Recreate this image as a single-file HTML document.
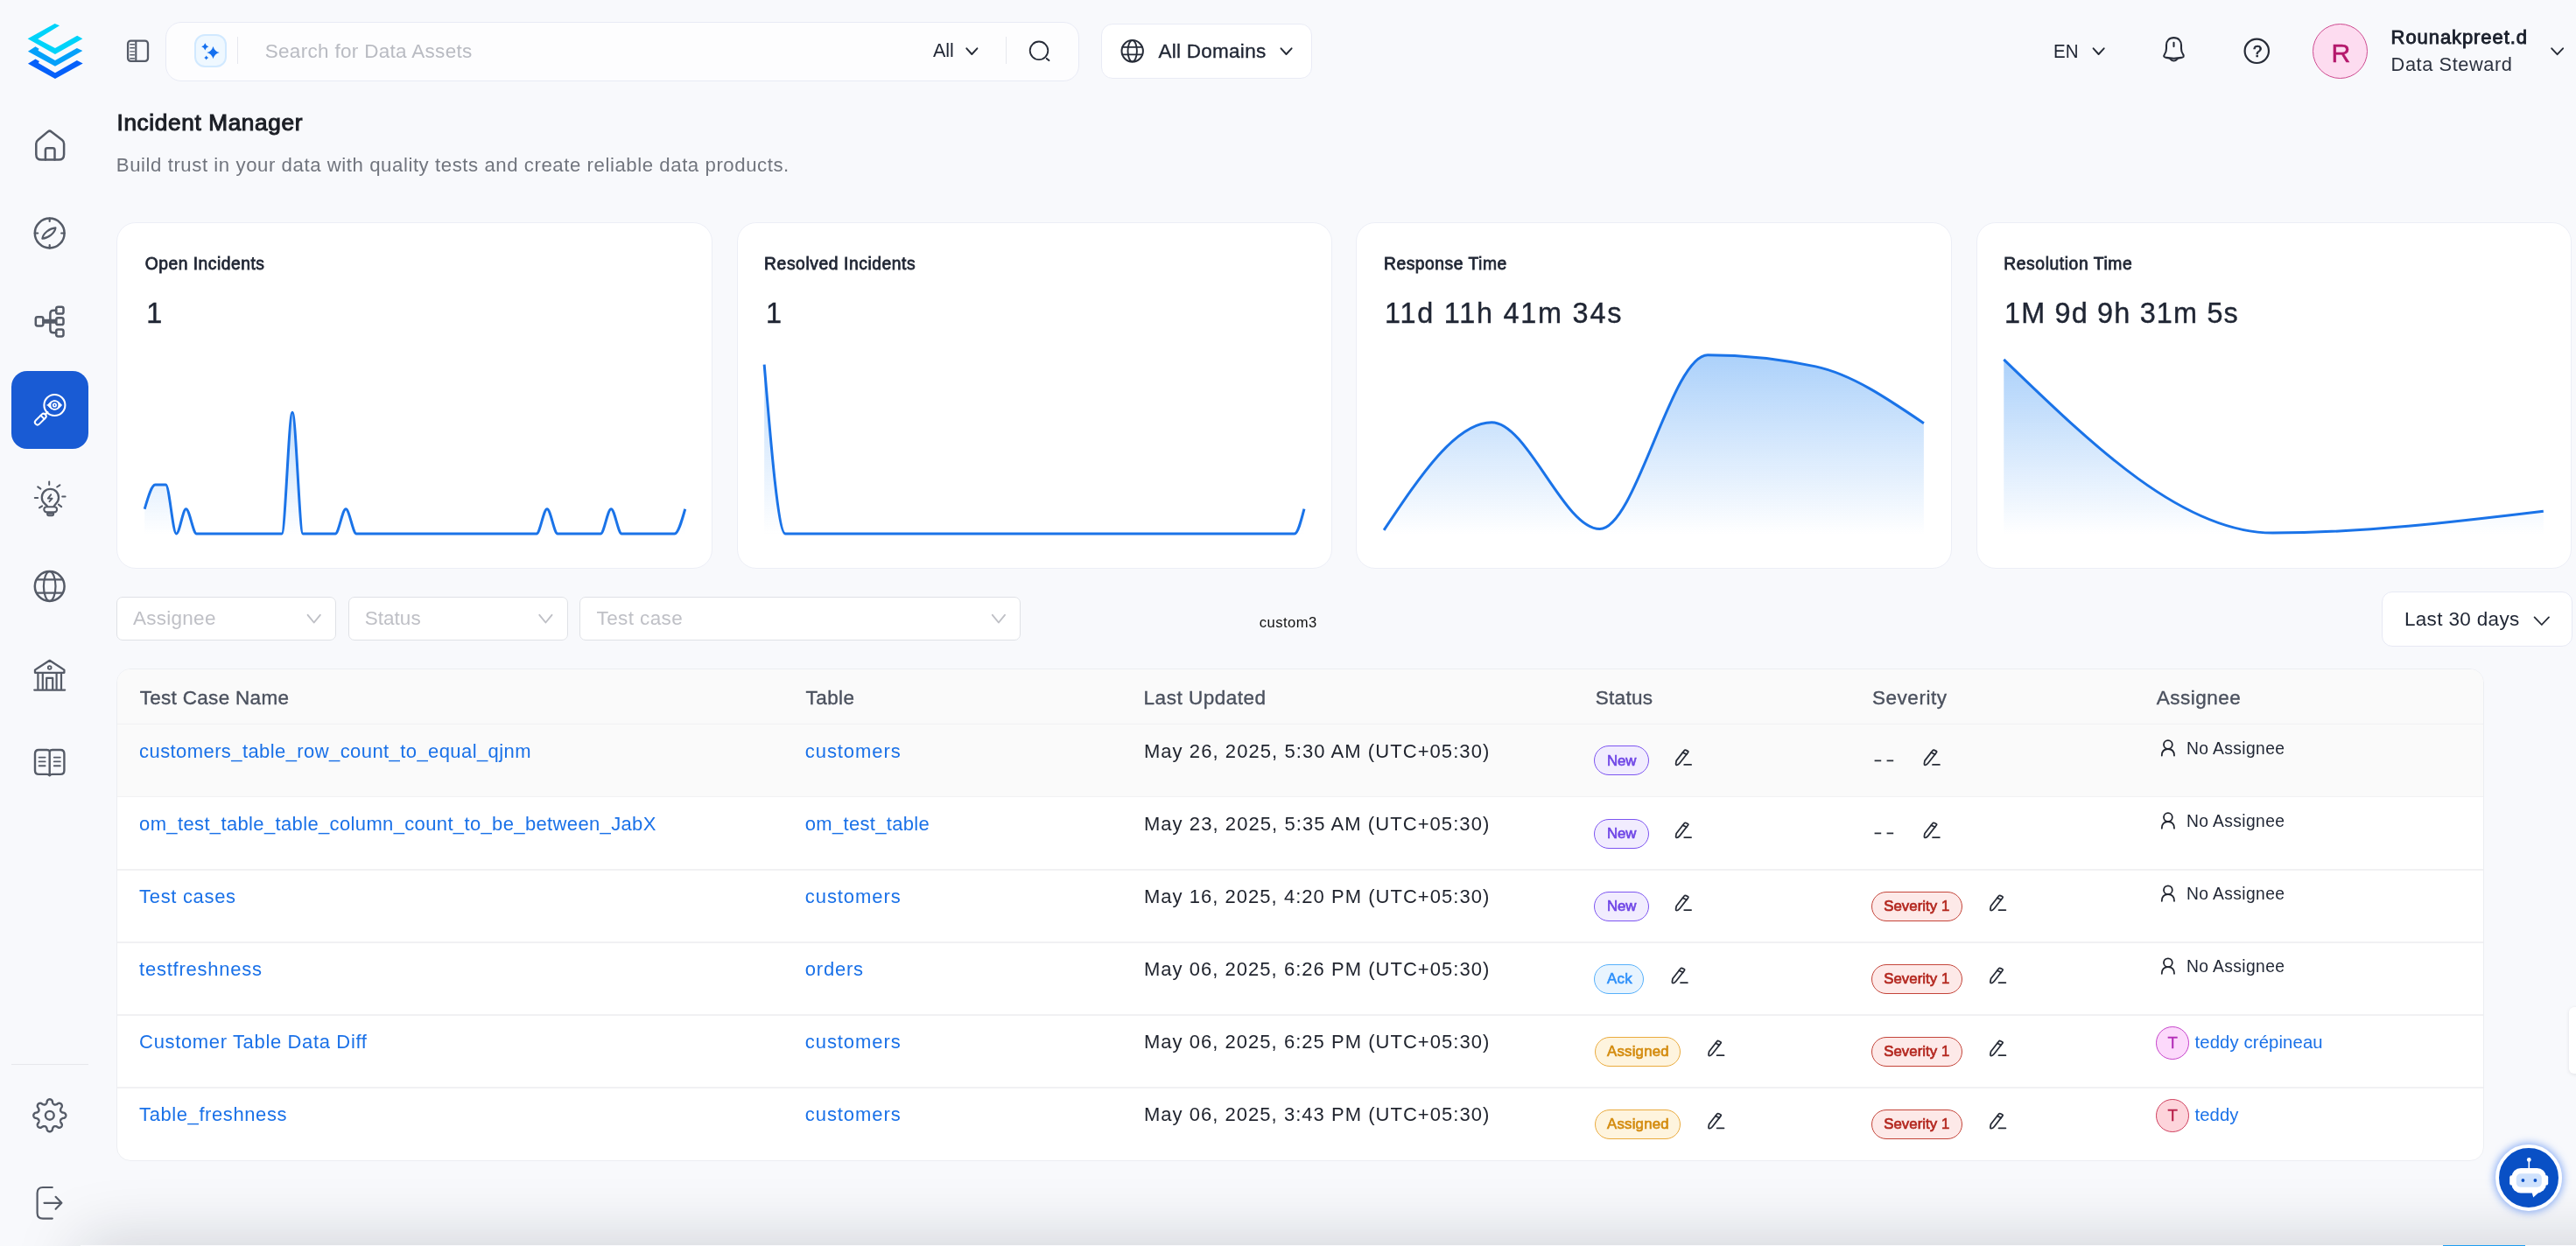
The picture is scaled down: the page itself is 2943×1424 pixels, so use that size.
<!DOCTYPE html>
<html><head><meta charset="utf-8"><title>Incident Manager</title>
<style>
html,body{margin:0;padding:0}
body{width:2943px;height:1424px;overflow:hidden;background:#f8f9fc;position:relative;font-family:'Liberation Sans',sans-serif}
.t{position:absolute;white-space:pre;line-height:1}
.a{position:absolute;box-sizing:border-box}
svg{position:absolute;left:0;top:0;overflow:visible}
.card{position:absolute;box-sizing:border-box;background:#fff;border:1.5px solid #eceef6;border-radius:22px}
.sel{position:absolute;box-sizing:border-box;background:#fff;border:1.5px solid #dfe1e6;border-radius:7px}
.bdg{position:absolute;box-sizing:border-box;border-radius:20px;border:1.8px solid}
#w{position:absolute;left:0;top:0;width:2943px;height:1424px;overflow:hidden;will-change:transform}
</style></head><body><div id="w">
<div class="a" style="left:92px;top:1423px;width:3000px;height:60px;background:#fbfbfd;box-shadow:0 0 76px 0 rgba(16,24,40,0.21)"></div>
<svg width="2943" height="1424" viewBox="0 0 2943 1424">
<polygon points="62.63,26.94 68.09,29.32 43.19,44.47 62.97,54.90 88.21,40.78 94.35,44.33 62.97,62.07 31.60,44.33" fill="#00d3fa"/>
<polygon points="31.94,58.66 40.46,53.34 44.56,55.79 43.53,57.84 62.97,68.89 87.87,55.11 94.35,58.11 62.97,75.71" fill="#04a0fa"/>
<polygon points="31.94,72.64 40.46,67.52 44.90,70.12 43.87,71.96 62.97,83.21 87.87,69.09 94.69,72.44 62.97,89.90" fill="#0560fa"/>
</svg>
<div class="a" style="left:12.5px;top:424px;width:88.4px;height:89px;border-radius:18px;background:#195bd4"></div>
<div class="a" style="left:13px;top:1215.6px;width:88px;height:1.6px;background:#e7e8ec"></div>
<svg width="120" height="1424" viewBox="0 0 120 1424" fill="none" stroke="#555b67" stroke-width="2.5" stroke-linecap="round" stroke-linejoin="round">
<!-- home -->
<path d="M41.3 164.2 Q41.3 161.6 43.4 160 L54.8 150.4 Q56.7 148.9 58.6 150.4 L71 160 Q73.1 161.6 73.1 164.2 V176.5 Q73.1 182.6 67 182.6 H47.4 Q41.3 182.6 41.3 176.5 Z"/>
<path d="M51.9 182.6 V171.5 Q51.9 169.3 54.1 169.3 H60.3 Q62.5 169.3 62.5 171.5 V182.6"/>
<!-- explore -->
<circle cx="56.7" cy="266.5" r="16.9"/>
<path d="M56.7 249.6v3.4M56.7 280v3.4M39.8 266.5h3.4M70.2 266.5h3.4" stroke-width="2.2"/>
<path d="M48.4 272.6 C49.2 266.8 56.5 260.9 63.4 260.4 C62.8 266.3 55 272.2 48.4 272.6 Z" stroke-width="2.2"/>
<!-- lineage -->
<rect x="40.8" y="362.2" width="8.6" height="10.2" rx="2.2"/>
<rect x="64.2" y="350.8" width="8.3" height="7.8" rx="2.2"/>
<rect x="64.2" y="363.3" width="8.3" height="7.8" rx="2.2"/>
<rect x="64.2" y="376.6" width="8.3" height="7.8" rx="2.2"/>
<path d="M49.4 366h14.8M49.4 368.6h14.8M64.2 354.7h-3.2q-3.6 0-3.6 3.6v18.4q0 3.6 3.6 3.6h3.2"/>
<!-- bulb -->
<path d="M53.9 578.4 L50.6 575.2 A9.6 9.6 0 1 1 64.2 575.2 L61.7 578.4" stroke-width="2.3"/>
<rect x="50.3" y="579.2" width="14.8" height="6.2" rx="3.1" stroke-width="2.1"/>
<path d="M54 586.6 V587.6 Q54 589.4 55.8 589.4 H59.4 Q61.2 589.4 61.2 587.6 V586.6 Z" stroke-width="1.8" fill="#8a8f99"/>
<path d="M58.2 565.3 L54.8 569.6 H59.6 L56.5 573.2" stroke-width="1.9"/>
<path d="M56.2 550.4V554M43.2 556.4l3.2 2.2M65.2 556.5l3.2 -2.1M39.8 569h3.4M71.2 567.4h3.4M44.9 580.3l3.2 -2M66.9 576.6l3.3 2.5" stroke-width="2"/>
<!-- globe -->
<circle cx="56.7" cy="670" r="16.9"/>
<ellipse cx="56.7" cy="670" rx="6.8" ry="16.9" stroke-width="2.2"/>
<path d="M41.8 662.4h29.8M41.8 677.6h29.8" stroke-width="2.2"/>
<!-- governance -->
<path d="M40 765.6 L56.7 754.8 L73.4 765.6 V768.8 H40 Z" stroke-width="2.3"/>
<circle cx="56.7" cy="763" r="1.9" stroke-width="1.8"/>
<path d="M43.4 769.5v17.6M48.8 769.5v17.6M64.6 769.5v17.6M70 769.5v17.6M53.2 787.5v-12.6h7v12.6M39.2 788.6h35" stroke-width="2.2"/>
<!-- book -->
<path d="M56.7 858.4 Q55.8 857 53.5 857 H44.4 Q40 857 40 861.4 V880.5 Q40 884.9 44.4 884.9 H53.5 Q55.8 884.9 56.7 886.2 Q57.6 884.9 59.9 884.9 H69 Q73.4 884.9 73.4 880.5 V861.4 Q73.4 857 69 857 H59.9 Q57.6 857 56.7 858.4 V885.6" stroke-width="2.4"/>
<path d="M44.6 865.6h7M44.6 870.4h7M44.6 875.2h7M61.8 865.6h7M61.8 870.4h7M61.8 875.2h7" stroke-width="1.9"/>
<circle cx="56.7" cy="885.6" r="1.5" fill="#555b67" stroke="none"/>
<!-- settings -->
<path d="M56.80,1256.30L57.16,1256.32L57.52,1256.39L57.88,1256.50L58.23,1256.65L58.57,1256.86L58.89,1257.11L59.21,1257.41L59.50,1257.78L59.76,1258.24L59.92,1259.11L60.05,1259.97L60.25,1260.44L60.45,1260.82L60.65,1261.15L60.86,1261.43L61.06,1261.68L61.28,1261.89L61.50,1262.06L61.73,1262.21L61.97,1262.33L62.22,1262.41L62.48,1262.47L62.76,1262.50L63.06,1262.51L63.39,1262.48L63.73,1262.43L64.10,1262.34L64.51,1262.21L64.98,1262.02L65.69,1261.50L66.42,1261.00L66.93,1260.86L67.40,1260.80L67.83,1260.81L68.24,1260.86L68.62,1260.96L68.98,1261.10L69.31,1261.27L69.61,1261.48L69.88,1261.72L70.12,1261.99L70.33,1262.29L70.50,1262.62L70.64,1262.98L70.74,1263.36L70.79,1263.77L70.80,1264.20L70.74,1264.67L70.60,1265.18L70.10,1265.91L69.58,1266.62L69.39,1267.09L69.26,1267.50L69.17,1267.87L69.12,1268.21L69.09,1268.54L69.10,1268.84L69.13,1269.12L69.19,1269.38L69.27,1269.63L69.39,1269.87L69.54,1270.10L69.71,1270.32L69.92,1270.54L70.17,1270.74L70.45,1270.95L70.78,1271.15L71.16,1271.35L71.63,1271.55L72.49,1271.68L73.36,1271.84L73.82,1272.10L74.19,1272.39L74.49,1272.71L74.74,1273.03L74.95,1273.37L75.10,1273.72L75.21,1274.08L75.28,1274.44L75.30,1274.80L75.28,1275.16L75.21,1275.52L75.10,1275.88L74.95,1276.23L74.74,1276.57L74.49,1276.89L74.19,1277.21L73.82,1277.50L73.36,1277.76L72.49,1277.92L71.63,1278.05L71.16,1278.25L70.78,1278.45L70.45,1278.65L70.17,1278.86L69.92,1279.06L69.71,1279.28L69.54,1279.50L69.39,1279.73L69.27,1279.97L69.19,1280.22L69.13,1280.48L69.10,1280.76L69.09,1281.06L69.12,1281.39L69.17,1281.73L69.26,1282.10L69.39,1282.51L69.58,1282.98L70.10,1283.69L70.60,1284.42L70.74,1284.93L70.80,1285.40L70.79,1285.83L70.74,1286.24L70.64,1286.62L70.50,1286.98L70.33,1287.31L70.12,1287.61L69.88,1287.88L69.61,1288.12L69.31,1288.33L68.98,1288.50L68.62,1288.64L68.24,1288.74L67.83,1288.79L67.40,1288.80L66.93,1288.74L66.42,1288.60L65.69,1288.10L64.98,1287.58L64.51,1287.39L64.10,1287.26L63.73,1287.17L63.39,1287.12L63.06,1287.09L62.76,1287.10L62.48,1287.13L62.22,1287.19L61.97,1287.27L61.73,1287.39L61.50,1287.54L61.28,1287.71L61.06,1287.92L60.86,1288.17L60.65,1288.45L60.45,1288.78L60.25,1289.16L60.05,1289.63L59.92,1290.49L59.76,1291.36L59.50,1291.82L59.21,1292.19L58.89,1292.49L58.57,1292.74L58.23,1292.95L57.88,1293.10L57.52,1293.21L57.16,1293.28L56.80,1293.30L56.44,1293.28L56.08,1293.21L55.72,1293.10L55.37,1292.95L55.03,1292.74L54.71,1292.49L54.39,1292.19L54.10,1291.82L53.84,1291.36L53.68,1290.49L53.55,1289.63L53.35,1289.16L53.15,1288.78L52.95,1288.45L52.74,1288.17L52.54,1287.92L52.32,1287.71L52.10,1287.54L51.87,1287.39L51.63,1287.27L51.38,1287.19L51.12,1287.13L50.84,1287.10L50.54,1287.09L50.21,1287.12L49.87,1287.17L49.50,1287.26L49.09,1287.39L48.62,1287.58L47.91,1288.10L47.18,1288.60L46.67,1288.74L46.20,1288.80L45.77,1288.79L45.36,1288.74L44.98,1288.64L44.62,1288.50L44.29,1288.33L43.99,1288.12L43.72,1287.88L43.48,1287.61L43.27,1287.31L43.10,1286.98L42.96,1286.62L42.86,1286.24L42.81,1285.83L42.80,1285.40L42.86,1284.93L43.00,1284.42L43.50,1283.69L44.02,1282.98L44.21,1282.51L44.34,1282.10L44.43,1281.73L44.48,1281.39L44.51,1281.06L44.50,1280.76L44.47,1280.48L44.41,1280.22L44.33,1279.97L44.21,1279.73L44.06,1279.50L43.89,1279.28L43.68,1279.06L43.43,1278.86L43.15,1278.65L42.82,1278.45L42.44,1278.25L41.97,1278.05L41.11,1277.92L40.24,1277.76L39.78,1277.50L39.41,1277.21L39.11,1276.89L38.86,1276.57L38.65,1276.23L38.50,1275.88L38.39,1275.52L38.32,1275.16L38.30,1274.80L38.32,1274.44L38.39,1274.08L38.50,1273.72L38.65,1273.37L38.86,1273.03L39.11,1272.71L39.41,1272.39L39.78,1272.10L40.24,1271.84L41.11,1271.68L41.97,1271.55L42.44,1271.35L42.82,1271.15L43.15,1270.95L43.43,1270.74L43.68,1270.54L43.89,1270.32L44.06,1270.10L44.21,1269.87L44.33,1269.63L44.41,1269.38L44.47,1269.12L44.50,1268.84L44.51,1268.54L44.48,1268.21L44.43,1267.87L44.34,1267.50L44.21,1267.09L44.02,1266.62L43.50,1265.91L43.00,1265.18L42.86,1264.67L42.80,1264.20L42.81,1263.77L42.86,1263.36L42.96,1262.98L43.10,1262.62L43.27,1262.29L43.48,1261.99L43.72,1261.72L43.99,1261.48L44.29,1261.27L44.62,1261.10L44.98,1260.96L45.36,1260.86L45.77,1260.81L46.20,1260.80L46.67,1260.86L47.18,1261.00L47.91,1261.50L48.62,1262.02L49.09,1262.21L49.50,1262.34L49.87,1262.43L50.21,1262.48L50.54,1262.51L50.84,1262.50L51.12,1262.47L51.38,1262.41L51.63,1262.33L51.87,1262.21L52.10,1262.06L52.32,1261.89L52.54,1261.68L52.74,1261.43L52.95,1261.15L53.15,1260.82L53.35,1260.44L53.55,1259.97L53.68,1259.11L53.84,1258.24L54.10,1257.78L54.39,1257.41L54.71,1257.11L55.03,1256.86L55.37,1256.65L55.72,1256.50L56.08,1256.39L56.44,1256.32L56.80,1256.30Z" stroke-width="2.4"/>
<circle cx="56.8" cy="1274.8" r="4.9" stroke-width="2.4"/>
<!-- logout -->
<path d="M59.8 1357 H49 Q42.6 1357 42.6 1363.4 V1386.2 Q42.6 1392.6 49 1392.6 H59.8" stroke-width="2.2"/>
<path d="M50.5 1374.8 H70 M63.6 1367.8 L70.4 1374.8 L63.6 1381.8" stroke-width="2.2"/>
<!-- active: observability (white) -->
<g stroke="#fff">
<circle cx="62.4" cy="463" r="12" stroke-width="2.1"/>
<path d="M54.2 463 Q62.4 451.8 70.6 463 Q62.4 474.2 54.2 463Z" fill="#fff" stroke-width="0.8"/>
<circle cx="62.4" cy="463" r="3.3" stroke="#1a5bd6" stroke-width="1.5" fill="#fff"/>
<circle cx="62.4" cy="463" r="0.9" stroke="none" fill="#1a5bd6"/>
<g transform="translate(51.8,473.6) rotate(135)">
<path d="M-3.4 0H0" stroke-width="2.4"/>
<rect x="0" y="-2.9" width="15.6" height="5.8" rx="2.9" stroke-width="2"/>
<path d="M4.6 -2.9V2.9" stroke-width="2"/>
</g>
</g>
</svg>
<svg width="2943" height="130" viewBox="0 0 2943 130" fill="none" stroke="#555b67" stroke-width="2.1" stroke-linecap="round" stroke-linejoin="round">
<rect x="146.1" y="46.7" width="22.9" height="23.2" rx="3.3" stroke-width="2.3"/>
<path d="M155.3 47v22.6" stroke-width="2.1"/>
<path d="M148.3 50.8h5.6M148.3 54.8h5.6M148.3 58.9h5.6M148.3 62.8h5.6M148.3 66.8h5.6" stroke-width="1.4" stroke-linecap="butt"/>
</svg>
<div class="a" style="left:189.4px;top:25.3px;width:1043.8px;height:68px;border-radius:18px;background:#fdfdfe;border:1.5px solid #e8eaf5"></div>
<div class="a" style="left:221.9px;top:39.3px;width:36.8px;height:38.2px;border-radius:12px;background:#eff8ff;border:2px solid #d1e9ff"></div>
<svg width="2943" height="130" viewBox="0 0 2943 130">
<path d="M243.5 52.9 Q245.084 58.516 250.7 60.1 Q245.084 61.684000000000005 243.5 67.3 Q241.916 61.684000000000005 236.3 60.1 Q241.916 58.516 243.5 52.9Z" fill="#1570ef"/>
<path d="M234.3 49.199999999999996 Q235.202 52.397999999999996 238.4 53.3 Q235.202 54.202 234.3 57.4 Q233.39800000000002 54.202 230.20000000000002 53.3 Q233.39800000000002 52.397999999999996 234.3 49.199999999999996Z" fill="#1570ef"/>
<path d="M235.7 63.400000000000006 Q236.25 65.35000000000001 238.2 65.9 Q236.25 66.45 235.7 68.4 Q235.14999999999998 66.45 233.2 65.9 Q235.14999999999998 65.35000000000001 235.7 63.400000000000006Z" fill="#1570ef"/>
</svg>
<div class="a" style="left:270.6px;top:41.7px;width:1.5px;height:31.3px;background:#e6e8ee"></div>
<span class="t" style="left:302.7px;top:48.4px;font-size:22.5px;color:#b9bbc2;letter-spacing:0.309px;">Search for Data Assets</span>
<span class="t" style="left:1066.3px;top:47.2px;font-size:22.5px;color:#1f2533;transform:scaleX(0.9554);transform-origin:0 0;">All</span>
<div class="a" style="left:1257.8px;top:27.2px;width:241.2px;height:62.8px;border-radius:13px;background:#fff;border:1.5px solid #e9ebf5"></div>
<div class="a" style="left:1148.8px;top:42px;width:1.5px;height:31px;background:#e6e8ee"></div>
<svg width="2943" height="130" viewBox="0 0 2943 130" fill="none" stroke="#272c38" stroke-width="2" stroke-linecap="round" stroke-linejoin="round">
<path d="M1104.3 55.3 L1110.3 62.0 L1116.4 55.3" fill="none" stroke="#262b36" stroke-width="1.9" stroke-linecap="round" stroke-linejoin="round"/>
<circle cx="1187" cy="57.8" r="10.3" stroke-width="1.8"/>
<path d="M1195.8 66.9l2.6 2.2" stroke-width="2"/>
<!-- globe -->
<circle cx="1293.7" cy="58.3" r="12.2" stroke-width="2"/>
<ellipse cx="1293.7" cy="58.3" rx="5.2" ry="12.2" stroke-width="1.9"/>
<path d="M1282.4 53.9h22.6M1282.4 62.4h22.6" stroke-width="1.9"/>
<path d="M1463.5 55.3 L1469.5 62.0 L1475.6 55.3" fill="none" stroke="#262b36" stroke-width="1.9" stroke-linecap="round" stroke-linejoin="round"/>
<path d="M2391.6 55.3 L2397.6 62.0 L2403.7 55.3" fill="none" stroke="#262b36" stroke-width="1.9" stroke-linecap="round" stroke-linejoin="round"/>
<path d="M2915.2 55.3 L2921.6 62.2 L2928.1 55.3" fill="none" stroke="#262b36" stroke-width="1.9" stroke-linecap="round" stroke-linejoin="round"/>
<!-- bell -->
<path d="M2483.5 43.1 C2478 43.1 2475 47 2475 51.6 V55.5 C2475 58.8 2474.3 60.2 2473 62 C2471.4 64.3 2472.6 65.6 2475 65.9 C2480 66.9 2487 66.9 2492 65.9 C2494.6 65.6 2495.8 64.3 2494 62 C2492.7 60.2 2492 58.8 2492 55.5 V51.6 C2492 47 2489 43.1 2483.5 43.1 Z" stroke-width="2.1"/>
<path d="M2483.5 48.7V53.1" stroke-width="2.1"/>
<path d="M2479.4 67.4 Q2483.5 71.8 2487.6 67.4" stroke-width="2"/>
<!-- help -->
<circle cx="2578.3" cy="58.3" r="13.7" stroke-width="2.2"/>
</svg>
<span class="t" style="left:2574.0px;top:49.9px;font-size:18.2px;color:#1f2533;-webkit-text-stroke:0.73px #1f2533;">?</span>
<span class="t" style="left:1323.4px;top:47.6px;font-size:22.5px;color:#1f2533;letter-spacing:0.275px;-webkit-text-stroke:0.36px #1f2533;">All Domains</span>
<span class="t" style="left:2346.3px;top:47.8px;font-size:22.2px;color:#1f2533;transform:scaleX(0.9245);transform-origin:0 0;">EN</span>
<div class="a" style="left:2642.2px;top:26.9px;width:63px;height:63px;border-radius:50%;background:#fddcf0;border:1.5px solid #cd4a8f"></div>
<span class="t" style="left:2663.6px;top:45.6px;font-size:30.2px;color:#b4196c;-webkit-text-stroke:0.5px #b4196c;">R</span>
<span class="t" style="left:2731.6px;top:32.0px;font-size:22px;color:#1b202c;letter-spacing:0.923px;-webkit-text-stroke:0.88px #1b202c;">Rounakpreet.d</span>
<span class="t" style="left:2731.6px;top:63.0px;font-size:21.8px;color:#2c323f;letter-spacing:0.567px;">Data Steward</span>
<span class="t" style="left:133.5px;top:127.1px;font-size:26.2px;color:#1c1f26;letter-spacing:0.636px;-webkit-text-stroke:1.05px #1c1f26;">Incident Manager</span>
<span class="t" style="left:132.8px;top:178.0px;font-size:22.2px;color:#71757e;letter-spacing:0.562px;">Build trust in your data with quality tests and create reliable data products.</span>
<div class="card" style="left:133.1px;top:254.3px;width:680.8px;height:396.2px"></div>
<span class="t" style="left:165.7px;top:292.0px;font-size:19.3px;color:#1f2533;letter-spacing:0.500px;-webkit-text-stroke:0.77px #1f2533;">Open Incidents</span>
<span class="t" style="left:167.3px;top:341.5px;font-size:32.4px;color:#1f2533;-webkit-text-stroke:0.4px #1f2533;">1</span>
<div class="card" style="left:841.6px;top:254.3px;width:680.8px;height:396.2px"></div>
<span class="t" style="left:873.1px;top:292.0px;font-size:19.3px;color:#1f2533;letter-spacing:0.569px;-webkit-text-stroke:0.77px #1f2533;">Resolved Incidents</span>
<span class="t" style="left:874.9px;top:341.5px;font-size:32.4px;color:#1f2533;-webkit-text-stroke:0.4px #1f2533;">1</span>
<div class="card" style="left:1549.3px;top:254.3px;width:680.8px;height:396.2px"></div>
<span class="t" style="left:1581.0px;top:292.0px;font-size:19.3px;color:#1f2533;letter-spacing:0.519px;-webkit-text-stroke:0.77px #1f2533;">Response Time</span>
<span class="t" style="left:1582.0px;top:341.5px;font-size:32.4px;color:#1f2533;letter-spacing:1.777px;-webkit-text-stroke:0.4px #1f2533;">11d 11h 41m 34s</span>
<div class="card" style="left:2257.7px;top:254.3px;width:680.8px;height:396.2px"></div>
<span class="t" style="left:2289.3px;top:292.0px;font-size:19.3px;color:#1f2533;letter-spacing:0.582px;-webkit-text-stroke:0.77px #1f2533;">Resolution Time</span>
<span class="t" style="left:2290.0px;top:341.5px;font-size:32.4px;color:#1f2533;letter-spacing:1.180px;-webkit-text-stroke:0.4px #1f2533;">1M 9d 9h 31m 5s</span>
<svg width="2943" height="700" viewBox="0 0 2943 700">
<defs><linearGradient id="g1" gradientUnits="userSpaceOnUse" x1="0" y1="471.3" x2="0" y2="611.0"><stop offset="0" stop-color="#2f8cf3" stop-opacity="0.3"/><stop offset="1" stop-color="#2f8cf3" stop-opacity="0"/></linearGradient></defs><path d="M165.22,581.73C169.25,567.93,173.27,554.12,177.30,554.12C181.33,554.12,185.35,554.12,189.38,554.12C193.41,554.12,197.44,610.04,201.46,610.04C205.15,610.04,208.83,581.73,212.51,581.73C216.54,581.73,220.56,610.04,224.59,610.04C228.62,610.04,232.65,610.04,236.67,610.04C265.09,610.04,293.51,610.04,321.93,610.04C325.96,610.04,329.99,471.27,334.01,471.27C338.04,471.27,342.07,610.04,346.10,610.04C350.12,610.04,354.15,610.04,358.18,610.04C366.46,610.04,374.75,610.04,383.03,610.04C387.06,610.04,391.09,581.73,395.11,581.73C399.14,581.73,403.17,610.04,407.19,610.04C411.22,610.04,415.25,610.04,419.28,610.04C483.82,610.04,548.37,610.04,612.92,610.04C616.95,610.04,620.98,581.73,625.01,581.73C629.03,581.73,633.06,610.04,637.09,610.04C641.11,610.04,645.14,610.04,649.17,610.04C661.48,610.04,673.79,610.04,686.10,610.04C690.13,610.04,694.16,581.73,698.18,581.73C702.21,581.73,706.24,610.04,710.27,610.04C714.29,610.04,718.32,610.04,722.35,610.04C738.46,610.04,754.56,610.04,770.67,610.04C774.70,610.04,778.73,595.89,782.75,581.73L782.75,611.00L165.22,611.00Z" fill="url(#g1)"/><path d="M165.22,581.73C169.25,567.93,173.27,554.12,177.30,554.12C181.33,554.12,185.35,554.12,189.38,554.12C193.41,554.12,197.44,610.04,201.46,610.04C205.15,610.04,208.83,581.73,212.51,581.73C216.54,581.73,220.56,610.04,224.59,610.04C228.62,610.04,232.65,610.04,236.67,610.04C265.09,610.04,293.51,610.04,321.93,610.04C325.96,610.04,329.99,471.27,334.01,471.27C338.04,471.27,342.07,610.04,346.10,610.04C350.12,610.04,354.15,610.04,358.18,610.04C366.46,610.04,374.75,610.04,383.03,610.04C387.06,610.04,391.09,581.73,395.11,581.73C399.14,581.73,403.17,610.04,407.19,610.04C411.22,610.04,415.25,610.04,419.28,610.04C483.82,610.04,548.37,610.04,612.92,610.04C616.95,610.04,620.98,581.73,625.01,581.73C629.03,581.73,633.06,610.04,637.09,610.04C641.11,610.04,645.14,610.04,649.17,610.04C661.48,610.04,673.79,610.04,686.10,610.04C690.13,610.04,694.16,581.73,698.18,581.73C702.21,581.73,706.24,610.04,710.27,610.04C714.29,610.04,718.32,610.04,722.35,610.04C738.46,610.04,754.56,610.04,770.67,610.04C774.70,610.04,778.73,595.89,782.75,581.73" fill="none" stroke="#1a73e8" stroke-width="3" stroke-linejoin="round"/>
<defs><linearGradient id="g2" gradientUnits="userSpaceOnUse" x1="0" y1="416.7" x2="0" y2="611.0"><stop offset="0" stop-color="#2f8cf3" stop-opacity="0.3"/><stop offset="1" stop-color="#2f8cf3" stop-opacity="0"/></linearGradient></defs><path d="M873.15,416.73C881.20,513.39,889.26,610.04,897.31,610.04C905.37,610.04,913.42,610.04,921.47,610.04C1107.30,610.04,1293.12,610.04,1478.95,610.04C1482.63,610.04,1486.31,595.89,1489.99,581.73L1489.99,611.00L873.15,611.00Z" fill="url(#g2)"/><path d="M873.15,416.73C881.20,513.39,889.26,610.04,897.31,610.04C905.37,610.04,913.42,610.04,921.47,610.04C1107.30,610.04,1293.12,610.04,1478.95,610.04C1482.63,610.04,1486.31,595.89,1489.99,581.73" fill="none" stroke="#1a73e8" stroke-width="3" stroke-linejoin="round"/>
<defs><linearGradient id="g3" gradientUnits="userSpaceOnUse" x1="0" y1="405.7" x2="0" y2="611.0"><stop offset="0" stop-color="#2f8cf3" stop-opacity="0.4"/><stop offset="1" stop-color="#2f8cf3" stop-opacity="0"/></linearGradient></defs><path d="M1581.10,605.90C1622.13,544.30,1663.17,482.70,1704.20,482.70C1745.33,482.70,1786.47,604.50,1827.60,604.50C1868.73,604.50,1909.87,405.70,1951.00,405.70C1992.13,405.70,2033.27,410.10,2074.40,418.90C2115.57,427.71,2156.73,455.70,2197.90,483.70L2197.90,611.00L1581.10,611.00Z" fill="url(#g3)"/><path d="M1581.10,605.90C1622.13,544.30,1663.17,482.70,1704.20,482.70C1745.33,482.70,1786.47,604.50,1827.60,604.50C1868.73,604.50,1909.87,405.70,1951.00,405.70C1992.13,405.70,2033.27,410.10,2074.40,418.90C2115.57,427.71,2156.73,455.70,2197.90,483.70" fill="none" stroke="#1a73e8" stroke-width="3" stroke-linejoin="round"/>
<defs><linearGradient id="g4" gradientUnits="userSpaceOnUse" x1="0" y1="410.9" x2="0" y2="611.0"><stop offset="0" stop-color="#2f8cf3" stop-opacity="0.4"/><stop offset="1" stop-color="#2f8cf3" stop-opacity="0"/></linearGradient></defs><path d="M2289.30,410.90C2391.70,509.95,2494.10,609.00,2596.50,609.00C2699.60,609.00,2802.70,596.60,2905.80,584.20L2905.80,611.00L2289.30,611.00Z" fill="url(#g4)"/><path d="M2289.30,410.90C2391.70,509.95,2494.10,609.00,2596.50,609.00C2699.60,609.00,2802.70,596.60,2905.80,584.20" fill="none" stroke="#1a73e8" stroke-width="3" stroke-linejoin="round"/>
</svg>
<div class="sel" style="left:132.8px;top:682.2px;width:251.5px;height:49.6px"></div>
<span class="t" style="left:152.0px;top:695.7px;font-size:22.5px;color:#bfc0c6;letter-spacing:0.263px;">Assignee</span>
<div class="sel" style="left:397.5px;top:682.2px;width:251.5px;height:49.6px"></div>
<span class="t" style="left:416.7px;top:695.7px;font-size:22.5px;color:#bfc0c6;letter-spacing:0.041px;">Status</span>
<div class="sel" style="left:662.3px;top:682.2px;width:503.8px;height:49.6px"></div>
<span class="t" style="left:681.5px;top:695.7px;font-size:22.5px;color:#bfc0c6;letter-spacing:0.394px;">Test case</span>
<div class="a" style="left:2721.2px;top:676.3px;width:217.8px;height:62.4px;border-radius:12px;background:#fff;border:1.5px solid #e7e9f4"></div>
<svg width="2943" height="800" viewBox="0 0 2943 800">
<path d="M351.6 702.8 L358.7 711.5 L365.8 702.8" fill="none" stroke="#bfc0c6" stroke-width="1.9" stroke-linecap="round" stroke-linejoin="round"/>
<path d="M616.3 702.8 L623.4 711.5 L630.5 702.8" fill="none" stroke="#bfc0c6" stroke-width="1.9" stroke-linecap="round" stroke-linejoin="round"/>
<path d="M1133.8 702.8 L1140.9 711.5 L1148.0 702.8" fill="none" stroke="#bfc0c6" stroke-width="1.9" stroke-linecap="round" stroke-linejoin="round"/>
<path d="M2895.6 705.4 L2903.8 714.0 L2912.0 705.4" fill="none" stroke="#262b36" stroke-width="1.8" stroke-linecap="round" stroke-linejoin="round"/>
</svg>
<span class="t" style="left:1438.7px;top:704.2px;font-size:16.6px;color:#111;letter-spacing:0.480px;">custom3</span>
<span class="t" style="left:2746.9px;top:696.8px;font-size:22.5px;color:#1f2533;letter-spacing:0.346px;">Last 30 days</span>
<div class="a" style="left:132.9px;top:763.8px;width:2705.6px;height:563.6000000000001px;border-radius:16px;background:#fff;border:1.5px solid #eceef2;overflow:hidden"><div class="a" style="left:0;top:0;width:100%;height:145.18px;background:#fafafa"></div><div class="a" style="left:0;top:62.1px;width:100%;height:1.5px;background:#f1f1f3"></div><div class="a" style="left:0;top:145.2px;width:100%;height:1.5px;background:#f1f1f3"></div><div class="a" style="left:0;top:228.3px;width:100%;height:1.5px;background:#f1f1f3"></div><div class="a" style="left:0;top:311.3px;width:100%;height:1.5px;background:#f1f1f3"></div><div class="a" style="left:0;top:394.4px;width:100%;height:1.5px;background:#f1f1f3"></div><div class="a" style="left:0;top:477.5px;width:100%;height:1.5px;background:#f1f1f3"></div></div>
<span class="t" style="left:159.7px;top:786.9px;font-size:22.5px;color:#4b515e;letter-spacing:0.307px;-webkit-text-stroke:0.36px #4b515e;">Test Case Name</span>
<span class="t" style="left:920.6px;top:786.9px;font-size:22.5px;color:#4b515e;letter-spacing:0.401px;-webkit-text-stroke:0.36px #4b515e;">Table</span>
<span class="t" style="left:1306.6px;top:786.9px;font-size:22.5px;color:#4b515e;letter-spacing:0.504px;-webkit-text-stroke:0.36px #4b515e;">Last Updated</span>
<span class="t" style="left:1822.7px;top:786.9px;font-size:22.5px;color:#4b515e;letter-spacing:0.321px;-webkit-text-stroke:0.36px #4b515e;">Status</span>
<span class="t" style="left:2139.1px;top:786.9px;font-size:22.5px;color:#4b515e;letter-spacing:0.503px;-webkit-text-stroke:0.36px #4b515e;">Severity</span>
<span class="t" style="left:2463.7px;top:786.9px;font-size:22.5px;color:#4b515e;letter-spacing:0.491px;-webkit-text-stroke:0.36px #4b515e;">Assignee</span>
<span class="t" style="left:159.1px;top:848.0px;font-size:22px;color:#1a71e8;letter-spacing:0.413px;">customers_table_row_count_to_equal_qjnm</span>
<span class="t" style="left:919.8px;top:848.0px;font-size:22px;color:#1a71e8;letter-spacing:0.927px;">customers</span>
<span class="t" style="left:1306.9px;top:848.0px;font-size:22px;color:#20242e;letter-spacing:1.071px;">May 26, 2025, 5:30 AM (UTC+05:30)</span>
<div class="bdg" style="left:1821.1px;top:852.4px;width:62.5px;height:34px;background:#f1ecfe;border-color:#7d55f1"></div>
<span class="t" style="left:1835.9px;top:861.7px;font-size:16.8px;color:#7047e6;letter-spacing:-0.089px;-webkit-text-stroke:0.67px #7047e6;">New</span>
<span class="t" style="left:2498.0px;top:845.6px;font-size:19.3px;color:#1f2533;letter-spacing:0.373px;">No Assignee</span>
<span class="t" style="left:159.1px;top:931.1px;font-size:22px;color:#1a71e8;letter-spacing:0.357px;">om_test_table_table_column_count_to_be_between_JabX</span>
<span class="t" style="left:919.8px;top:931.1px;font-size:22px;color:#1a71e8;letter-spacing:0.308px;">om_test_table</span>
<span class="t" style="left:1306.9px;top:931.1px;font-size:22px;color:#20242e;letter-spacing:1.071px;">May 23, 2025, 5:35 AM (UTC+05:30)</span>
<div class="bdg" style="left:1821.1px;top:935.5px;width:62.5px;height:34px;background:#f1ecfe;border-color:#7d55f1"></div>
<span class="t" style="left:1835.9px;top:944.8px;font-size:16.8px;color:#7047e6;letter-spacing:-0.089px;-webkit-text-stroke:0.67px #7047e6;">New</span>
<span class="t" style="left:2498.0px;top:928.6px;font-size:19.3px;color:#1f2533;letter-spacing:0.373px;">No Assignee</span>
<span class="t" style="left:159.1px;top:1014.1px;font-size:22px;color:#1a71e8;letter-spacing:0.674px;">Test cases</span>
<span class="t" style="left:919.8px;top:1014.1px;font-size:22px;color:#1a71e8;letter-spacing:0.927px;">customers</span>
<span class="t" style="left:1306.9px;top:1014.1px;font-size:22px;color:#20242e;letter-spacing:1.033px;">May 16, 2025, 4:20 PM (UTC+05:30)</span>
<div class="bdg" style="left:1821.1px;top:1018.6px;width:62.5px;height:34px;background:#f1ecfe;border-color:#7d55f1"></div>
<span class="t" style="left:1835.9px;top:1027.8px;font-size:16.8px;color:#7047e6;letter-spacing:-0.089px;-webkit-text-stroke:0.67px #7047e6;">New</span>
<div class="bdg" style="left:2137.9px;top:1018.6px;width:104.2px;height:34px;background:#fde9e8;border-color:#c4453a"></div>
<span class="t" style="left:2152.2px;top:1027.8px;font-size:16.8px;color:#b3261e;letter-spacing:0.053px;-webkit-text-stroke:0.67px #b3261e;">Severity 1</span>
<span class="t" style="left:2498.0px;top:1011.7px;font-size:19.3px;color:#1f2533;letter-spacing:0.373px;">No Assignee</span>
<span class="t" style="left:159.1px;top:1097.2px;font-size:22px;color:#1a71e8;letter-spacing:0.763px;">testfreshness</span>
<span class="t" style="left:919.8px;top:1097.2px;font-size:22px;color:#1a71e8;letter-spacing:0.788px;">orders</span>
<span class="t" style="left:1306.9px;top:1097.2px;font-size:22px;color:#20242e;letter-spacing:1.033px;">May 06, 2025, 6:26 PM (UTC+05:30)</span>
<div class="bdg" style="left:1821.4px;top:1101.6px;width:56.6px;height:34px;background:#e8f4fe;border-color:#56b0fb"></div>
<span class="t" style="left:1836.0px;top:1110.9px;font-size:16.8px;color:#2e90fa;letter-spacing:0.308px;-webkit-text-stroke:0.67px #2e90fa;">Ack</span>
<div class="bdg" style="left:2137.9px;top:1101.6px;width:104.2px;height:34px;background:#fde9e8;border-color:#c4453a"></div>
<span class="t" style="left:2152.2px;top:1110.9px;font-size:16.8px;color:#b3261e;letter-spacing:0.053px;-webkit-text-stroke:0.67px #b3261e;">Severity 1</span>
<span class="t" style="left:2498.0px;top:1094.8px;font-size:19.3px;color:#1f2533;letter-spacing:0.373px;">No Assignee</span>
<span class="t" style="left:159.1px;top:1180.3px;font-size:22px;color:#1a71e8;letter-spacing:0.645px;">Customer Table Data Diff</span>
<span class="t" style="left:919.8px;top:1180.3px;font-size:22px;color:#1a71e8;letter-spacing:0.927px;">customers</span>
<span class="t" style="left:1306.9px;top:1180.3px;font-size:22px;color:#20242e;letter-spacing:1.033px;">May 06, 2025, 6:25 PM (UTC+05:30)</span>
<div class="bdg" style="left:1821.7px;top:1184.7px;width:98.5px;height:34px;background:#fef4de;border-color:#eaab3e"></div>
<span class="t" style="left:1836.0px;top:1194.0px;font-size:16.8px;color:#d48c10;letter-spacing:0.222px;-webkit-text-stroke:0.67px #d48c10;">Assigned</span>
<div class="bdg" style="left:2137.9px;top:1184.7px;width:104.2px;height:34px;background:#fde9e8;border-color:#c4453a"></div>
<span class="t" style="left:2152.2px;top:1194.0px;font-size:16.8px;color:#b3261e;letter-spacing:0.053px;-webkit-text-stroke:0.67px #b3261e;">Severity 1</span>
<div class="a" style="left:2463.1px;top:1172.8px;width:37.8px;height:37.8px;border-radius:50%;background:#fcd9fb;border:1.5px solid #c643cb"></div>
<span class="t" style="left:2476.6px;top:1182.6px;font-size:18.6px;color:#b32fb8;-webkit-text-stroke:0.4px #b32fb8;">T</span>
<span class="t" style="left:2507.5px;top:1181.1px;font-size:20.3px;color:#1a71e8;letter-spacing:0.127px;">teddy crépineau</span>
<span class="t" style="left:159.1px;top:1263.4px;font-size:22px;color:#1a71e8;letter-spacing:0.584px;">Table_freshness</span>
<span class="t" style="left:919.8px;top:1263.4px;font-size:22px;color:#1a71e8;letter-spacing:0.927px;">customers</span>
<span class="t" style="left:1306.9px;top:1263.4px;font-size:22px;color:#20242e;letter-spacing:1.033px;">May 06, 2025, 3:43 PM (UTC+05:30)</span>
<div class="bdg" style="left:1821.7px;top:1267.8px;width:98.5px;height:34px;background:#fef4de;border-color:#eaab3e"></div>
<span class="t" style="left:1836.0px;top:1277.1px;font-size:16.8px;color:#d48c10;letter-spacing:0.222px;-webkit-text-stroke:0.67px #d48c10;">Assigned</span>
<div class="bdg" style="left:2137.9px;top:1267.8px;width:104.2px;height:34px;background:#fde9e8;border-color:#c4453a"></div>
<span class="t" style="left:2152.2px;top:1277.1px;font-size:16.8px;color:#b3261e;letter-spacing:0.053px;-webkit-text-stroke:0.67px #b3261e;">Severity 1</span>
<div class="a" style="left:2463.1px;top:1255.9px;width:37.8px;height:37.8px;border-radius:50%;background:#fdd4db;border:1.5px solid #d0405f"></div>
<span class="t" style="left:2476.6px;top:1265.7px;font-size:18.6px;color:#b8204a;-webkit-text-stroke:0.4px #b8204a;">T</span>
<span class="t" style="left:2507.5px;top:1264.2px;font-size:20.3px;color:#1a71e8;letter-spacing:0.094px;">teddy</span>
<svg width="2943" height="1424" viewBox="0 0 2943 1424"><g transform="translate(1913.5,855.6)" fill="none" stroke="#262b36" stroke-width="1.75" stroke-linecap="round" stroke-linejoin="round"><path d="M1.68 13.77 L10.67 2.27 Q11.47 1.24 12.64 1.81 L14.65 2.78 Q15.82 3.35 15.02 4.38 L5.41 16.67 Q3.6 18.9 1.9 18.7 Q1 18.5 1.1 17.2 Z"/><path d="M9 4.4 L13.4 6.5"/><path d="M10.7 18.3 H18.6"/></g>
<path d="M2141.6 869.3h7.6M2155.6 869.3h7.6" stroke="#2b303b" stroke-width="1.7" fill="none"/>
<g transform="translate(2197.3,855.6)" fill="none" stroke="#262b36" stroke-width="1.75" stroke-linecap="round" stroke-linejoin="round"><path d="M1.68 13.77 L10.67 2.27 Q11.47 1.24 12.64 1.81 L14.65 2.78 Q15.82 3.35 15.02 4.38 L5.41 16.67 Q3.6 18.9 1.9 18.7 Q1 18.5 1.1 17.2 Z"/><path d="M9 4.4 L13.4 6.5"/><path d="M10.7 18.3 H18.6"/></g>
<g fill="none" stroke="#20242e" stroke-width="1.8" stroke-linecap="round"><circle cx="2476.9" cy="851.0" r="4.9"/><path d="M2469.8 863.6 Q2469.8 856.0 2476.9 856.0 Q2484 856.0 2484 863.6"/></g>
<g transform="translate(1913.5,938.7)" fill="none" stroke="#262b36" stroke-width="1.75" stroke-linecap="round" stroke-linejoin="round"><path d="M1.68 13.77 L10.67 2.27 Q11.47 1.24 12.64 1.81 L14.65 2.78 Q15.82 3.35 15.02 4.38 L5.41 16.67 Q3.6 18.9 1.9 18.7 Q1 18.5 1.1 17.2 Z"/><path d="M9 4.4 L13.4 6.5"/><path d="M10.7 18.3 H18.6"/></g>
<path d="M2141.6 952.4h7.6M2155.6 952.4h7.6" stroke="#2b303b" stroke-width="1.7" fill="none"/>
<g transform="translate(2197.3,938.7)" fill="none" stroke="#262b36" stroke-width="1.75" stroke-linecap="round" stroke-linejoin="round"><path d="M1.68 13.77 L10.67 2.27 Q11.47 1.24 12.64 1.81 L14.65 2.78 Q15.82 3.35 15.02 4.38 L5.41 16.67 Q3.6 18.9 1.9 18.7 Q1 18.5 1.1 17.2 Z"/><path d="M9 4.4 L13.4 6.5"/><path d="M10.7 18.3 H18.6"/></g>
<g fill="none" stroke="#20242e" stroke-width="1.8" stroke-linecap="round"><circle cx="2476.9" cy="934.1" r="4.9"/><path d="M2469.8 946.7 Q2469.8 939.1 2476.9 939.1 Q2484 939.1 2484 946.7"/></g>
<g transform="translate(1913.5,1021.8)" fill="none" stroke="#262b36" stroke-width="1.75" stroke-linecap="round" stroke-linejoin="round"><path d="M1.68 13.77 L10.67 2.27 Q11.47 1.24 12.64 1.81 L14.65 2.78 Q15.82 3.35 15.02 4.38 L5.41 16.67 Q3.6 18.9 1.9 18.7 Q1 18.5 1.1 17.2 Z"/><path d="M9 4.4 L13.4 6.5"/><path d="M10.7 18.3 H18.6"/></g>
<g transform="translate(2272.8,1021.8)" fill="none" stroke="#262b36" stroke-width="1.75" stroke-linecap="round" stroke-linejoin="round"><path d="M1.68 13.77 L10.67 2.27 Q11.47 1.24 12.64 1.81 L14.65 2.78 Q15.82 3.35 15.02 4.38 L5.41 16.67 Q3.6 18.9 1.9 18.7 Q1 18.5 1.1 17.2 Z"/><path d="M9 4.4 L13.4 6.5"/><path d="M10.7 18.3 H18.6"/></g>
<g fill="none" stroke="#20242e" stroke-width="1.8" stroke-linecap="round"><circle cx="2476.9" cy="1017.2" r="4.9"/><path d="M2469.8 1029.8 Q2469.8 1022.2 2476.9 1022.2 Q2484 1022.2 2484 1029.8"/></g>
<g transform="translate(1909.3,1104.8)" fill="none" stroke="#262b36" stroke-width="1.75" stroke-linecap="round" stroke-linejoin="round"><path d="M1.68 13.77 L10.67 2.27 Q11.47 1.24 12.64 1.81 L14.65 2.78 Q15.82 3.35 15.02 4.38 L5.41 16.67 Q3.6 18.9 1.9 18.7 Q1 18.5 1.1 17.2 Z"/><path d="M9 4.4 L13.4 6.5"/><path d="M10.7 18.3 H18.6"/></g>
<g transform="translate(2272.8,1104.8)" fill="none" stroke="#262b36" stroke-width="1.75" stroke-linecap="round" stroke-linejoin="round"><path d="M1.68 13.77 L10.67 2.27 Q11.47 1.24 12.64 1.81 L14.65 2.78 Q15.82 3.35 15.02 4.38 L5.41 16.67 Q3.6 18.9 1.9 18.7 Q1 18.5 1.1 17.2 Z"/><path d="M9 4.4 L13.4 6.5"/><path d="M10.7 18.3 H18.6"/></g>
<g fill="none" stroke="#20242e" stroke-width="1.8" stroke-linecap="round"><circle cx="2476.9" cy="1100.2" r="4.9"/><path d="M2469.8 1112.8 Q2469.8 1105.2 2476.9 1105.2 Q2484 1105.2 2484 1112.8"/></g>
<g transform="translate(1950.9,1187.9)" fill="none" stroke="#262b36" stroke-width="1.75" stroke-linecap="round" stroke-linejoin="round"><path d="M1.68 13.77 L10.67 2.27 Q11.47 1.24 12.64 1.81 L14.65 2.78 Q15.82 3.35 15.02 4.38 L5.41 16.67 Q3.6 18.9 1.9 18.7 Q1 18.5 1.1 17.2 Z"/><path d="M9 4.4 L13.4 6.5"/><path d="M10.7 18.3 H18.6"/></g>
<g transform="translate(2272.8,1187.9)" fill="none" stroke="#262b36" stroke-width="1.75" stroke-linecap="round" stroke-linejoin="round"><path d="M1.68 13.77 L10.67 2.27 Q11.47 1.24 12.64 1.81 L14.65 2.78 Q15.82 3.35 15.02 4.38 L5.41 16.67 Q3.6 18.9 1.9 18.7 Q1 18.5 1.1 17.2 Z"/><path d="M9 4.4 L13.4 6.5"/><path d="M10.7 18.3 H18.6"/></g>
<g transform="translate(1950.9,1271.0)" fill="none" stroke="#262b36" stroke-width="1.75" stroke-linecap="round" stroke-linejoin="round"><path d="M1.68 13.77 L10.67 2.27 Q11.47 1.24 12.64 1.81 L14.65 2.78 Q15.82 3.35 15.02 4.38 L5.41 16.67 Q3.6 18.9 1.9 18.7 Q1 18.5 1.1 17.2 Z"/><path d="M9 4.4 L13.4 6.5"/><path d="M10.7 18.3 H18.6"/></g>
<g transform="translate(2272.8,1271.0)" fill="none" stroke="#262b36" stroke-width="1.75" stroke-linecap="round" stroke-linejoin="round"><path d="M1.68 13.77 L10.67 2.27 Q11.47 1.24 12.64 1.81 L14.65 2.78 Q15.82 3.35 15.02 4.38 L5.41 16.67 Q3.6 18.9 1.9 18.7 Q1 18.5 1.1 17.2 Z"/><path d="M9 4.4 L13.4 6.5"/><path d="M10.7 18.3 H18.6"/></g></svg>
<div class="a" style="left:2935px;top:1150.7px;width:12px;height:76px;border-radius:6px 0 0 6px;background:#fff;box-shadow:0 1px 4px rgba(16,24,40,0.10)"></div>
<div class="a" style="left:2791px;top:1422.6px;width:93.7px;height:1.6px;background:#1e9df1"></div>
<div class="a" style="left:2851px;top:1307.8px;width:76px;height:76px;border-radius:50%;background:#0950c5;border:4px solid #fff;box-shadow:0 0 9px 2px rgba(60,120,240,0.55)"></div>
<svg width="2943" height="1424" viewBox="0 0 2943 1424">
<g fill="#fff"><rect x="2869.4" y="1335" width="39.6" height="28.4" rx="10.5"/>
<rect x="2867.2" y="1343.2" width="4.6" height="11.4" rx="2.2"/><rect x="2906.6" y="1343.2" width="4.6" height="11.4" rx="2.2"/>
<path d="M2892.6 1362.6 h8.2 l-6.6 5.8 z"/>
<rect x="2888.5" y="1325.6" width="1.6" height="10.4"/><circle cx="2889.3" cy="1325.4" r="2.4"/></g>
<rect x="2874.8" y="1341.2" width="29" height="15.6" rx="5" fill="#cfe2fd"/>
<circle cx="2882.4" cy="1349" r="1.9" fill="#0950c5"/><circle cx="2896.4" cy="1349" r="1.9" fill="#0950c5"/>
</svg>
</div></body></html>
